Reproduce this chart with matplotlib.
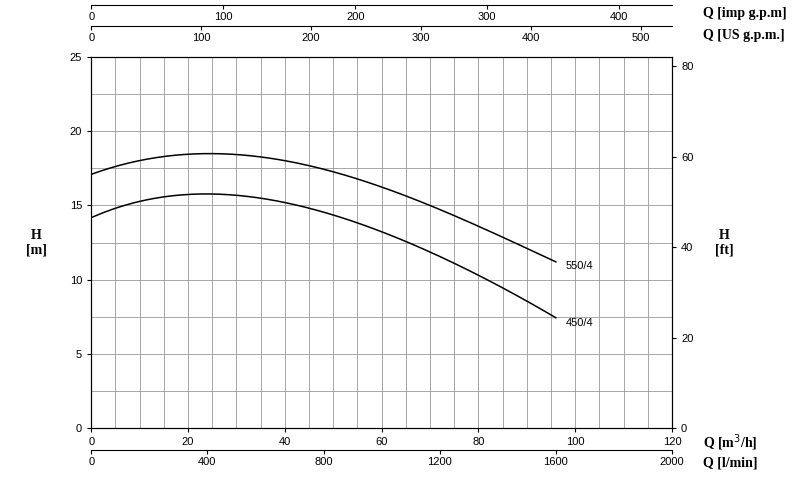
import numpy as np
import matplotlib.pyplot as plt

# curve data (Q in m3/h, H in m)
q_550 = [0, 10, 20, 24, 30, 40, 50, 60, 70, 80, 90, 96]
h_550 = [17.1, 18.0, 18.45, 18.5, 18.45, 18.0, 17.25, 16.25, 15.0, 13.6, 12.1, 11.2]
q_450 = [0, 10, 20, 24, 30, 40, 50, 60, 70, 80, 90, 96]
h_450 = [14.2, 15.2, 15.75, 15.8, 15.7, 15.2, 14.35, 13.2, 11.85, 10.3, 8.6, 7.4]
labels = ['550/4', '450/4']

plt.rcParams['font.family'] = 'Liberation Sans'
serif = 'Liberation Serif'

fig = plt.figure(figsize=(8, 4.86), dpi=100)
ax = fig.add_axes([0.114, 0.1193, 0.726, 0.7634])

for q, h in [(q_550, h_550), (q_450, h_450)]:
	qq = np.linspace(q[0], q[-1], 200)
	hh = np.polyval(np.polyfit(q, h, 4), qq)
	ax.plot(qq, hh, color='black', lw=1.1)
ax.text(98, h_550[-1] - 0.5, labels[0], fontsize=8)
ax.text(98, h_450[-1] - 0.5, labels[1], fontsize=8)

ax.set_xlim(0, 120)
ax.set_ylim(0, 25)
ax.set_xticks(np.arange(0, 121, 20))
ax.set_xticks(np.arange(0, 121, 5), minor=True)
ax.set_yticks(np.arange(0, 26, 5))
ax.set_yticks(np.arange(0, 25.1, 2.5), minor=True)
ax.grid(True, which='both', color='#999999', lw=0.6)
ax.tick_params(labelsize=8, length=3)
ax.tick_params(which='minor', length=0)

ax2 = ax.twinx()
ax2.set_ylim(0, 25 * 3.2808)
ax2.set_yticks(np.arange(0, 81, 20))
ax2.tick_params(labelsize=8, length=3)

fig.text(0.045, 0.5, 'H\n[m]', ha='center', va='center', fontsize=10, family=serif, weight='bold')
fig.text(0.905, 0.5, 'H\n[ft]', ha='center', va='center', fontsize=10, family=serif, weight='bold')

lx = 0.879

def extra_axis(y, xmax, ticks, label, label_y):
	a = fig.add_axes([0.114, y, 0.726, 0.0001])
	a.set_xlim(0, xmax)
	a.set_xticks(ticks)
	a.set_yticks([])
	for s in ['top', 'left', 'right']:
		a.spines[s].set_visible(False)
	a.tick_params(labelsize=8, length=3, pad=2)
	a.patch.set_alpha(0)
	fig.text(lx, label_y, label, fontsize=10, family=serif, weight='bold', va='center')

extra_axis(1 - 5 / 486, 120 * 3.666, np.arange(0, 401, 100), 'Q [imp g.p.m]', 1 - 14 / 486)
extra_axis(1 - 26 / 486, 120 * 4.403, np.arange(0, 501, 100), 'Q [US g.p.m.]', 1 - 35 / 486)
extra_axis(1 - 450 / 486, 2000, np.arange(0, 2001, 400), 'Q [l/min]', 1 - 463 / 486)
fig.text(lx, 1 - 443 / 486, 'Q [m$^3$/h]', fontsize=10, family=serif, weight='bold', va='center')

fig.savefig('out.png')
